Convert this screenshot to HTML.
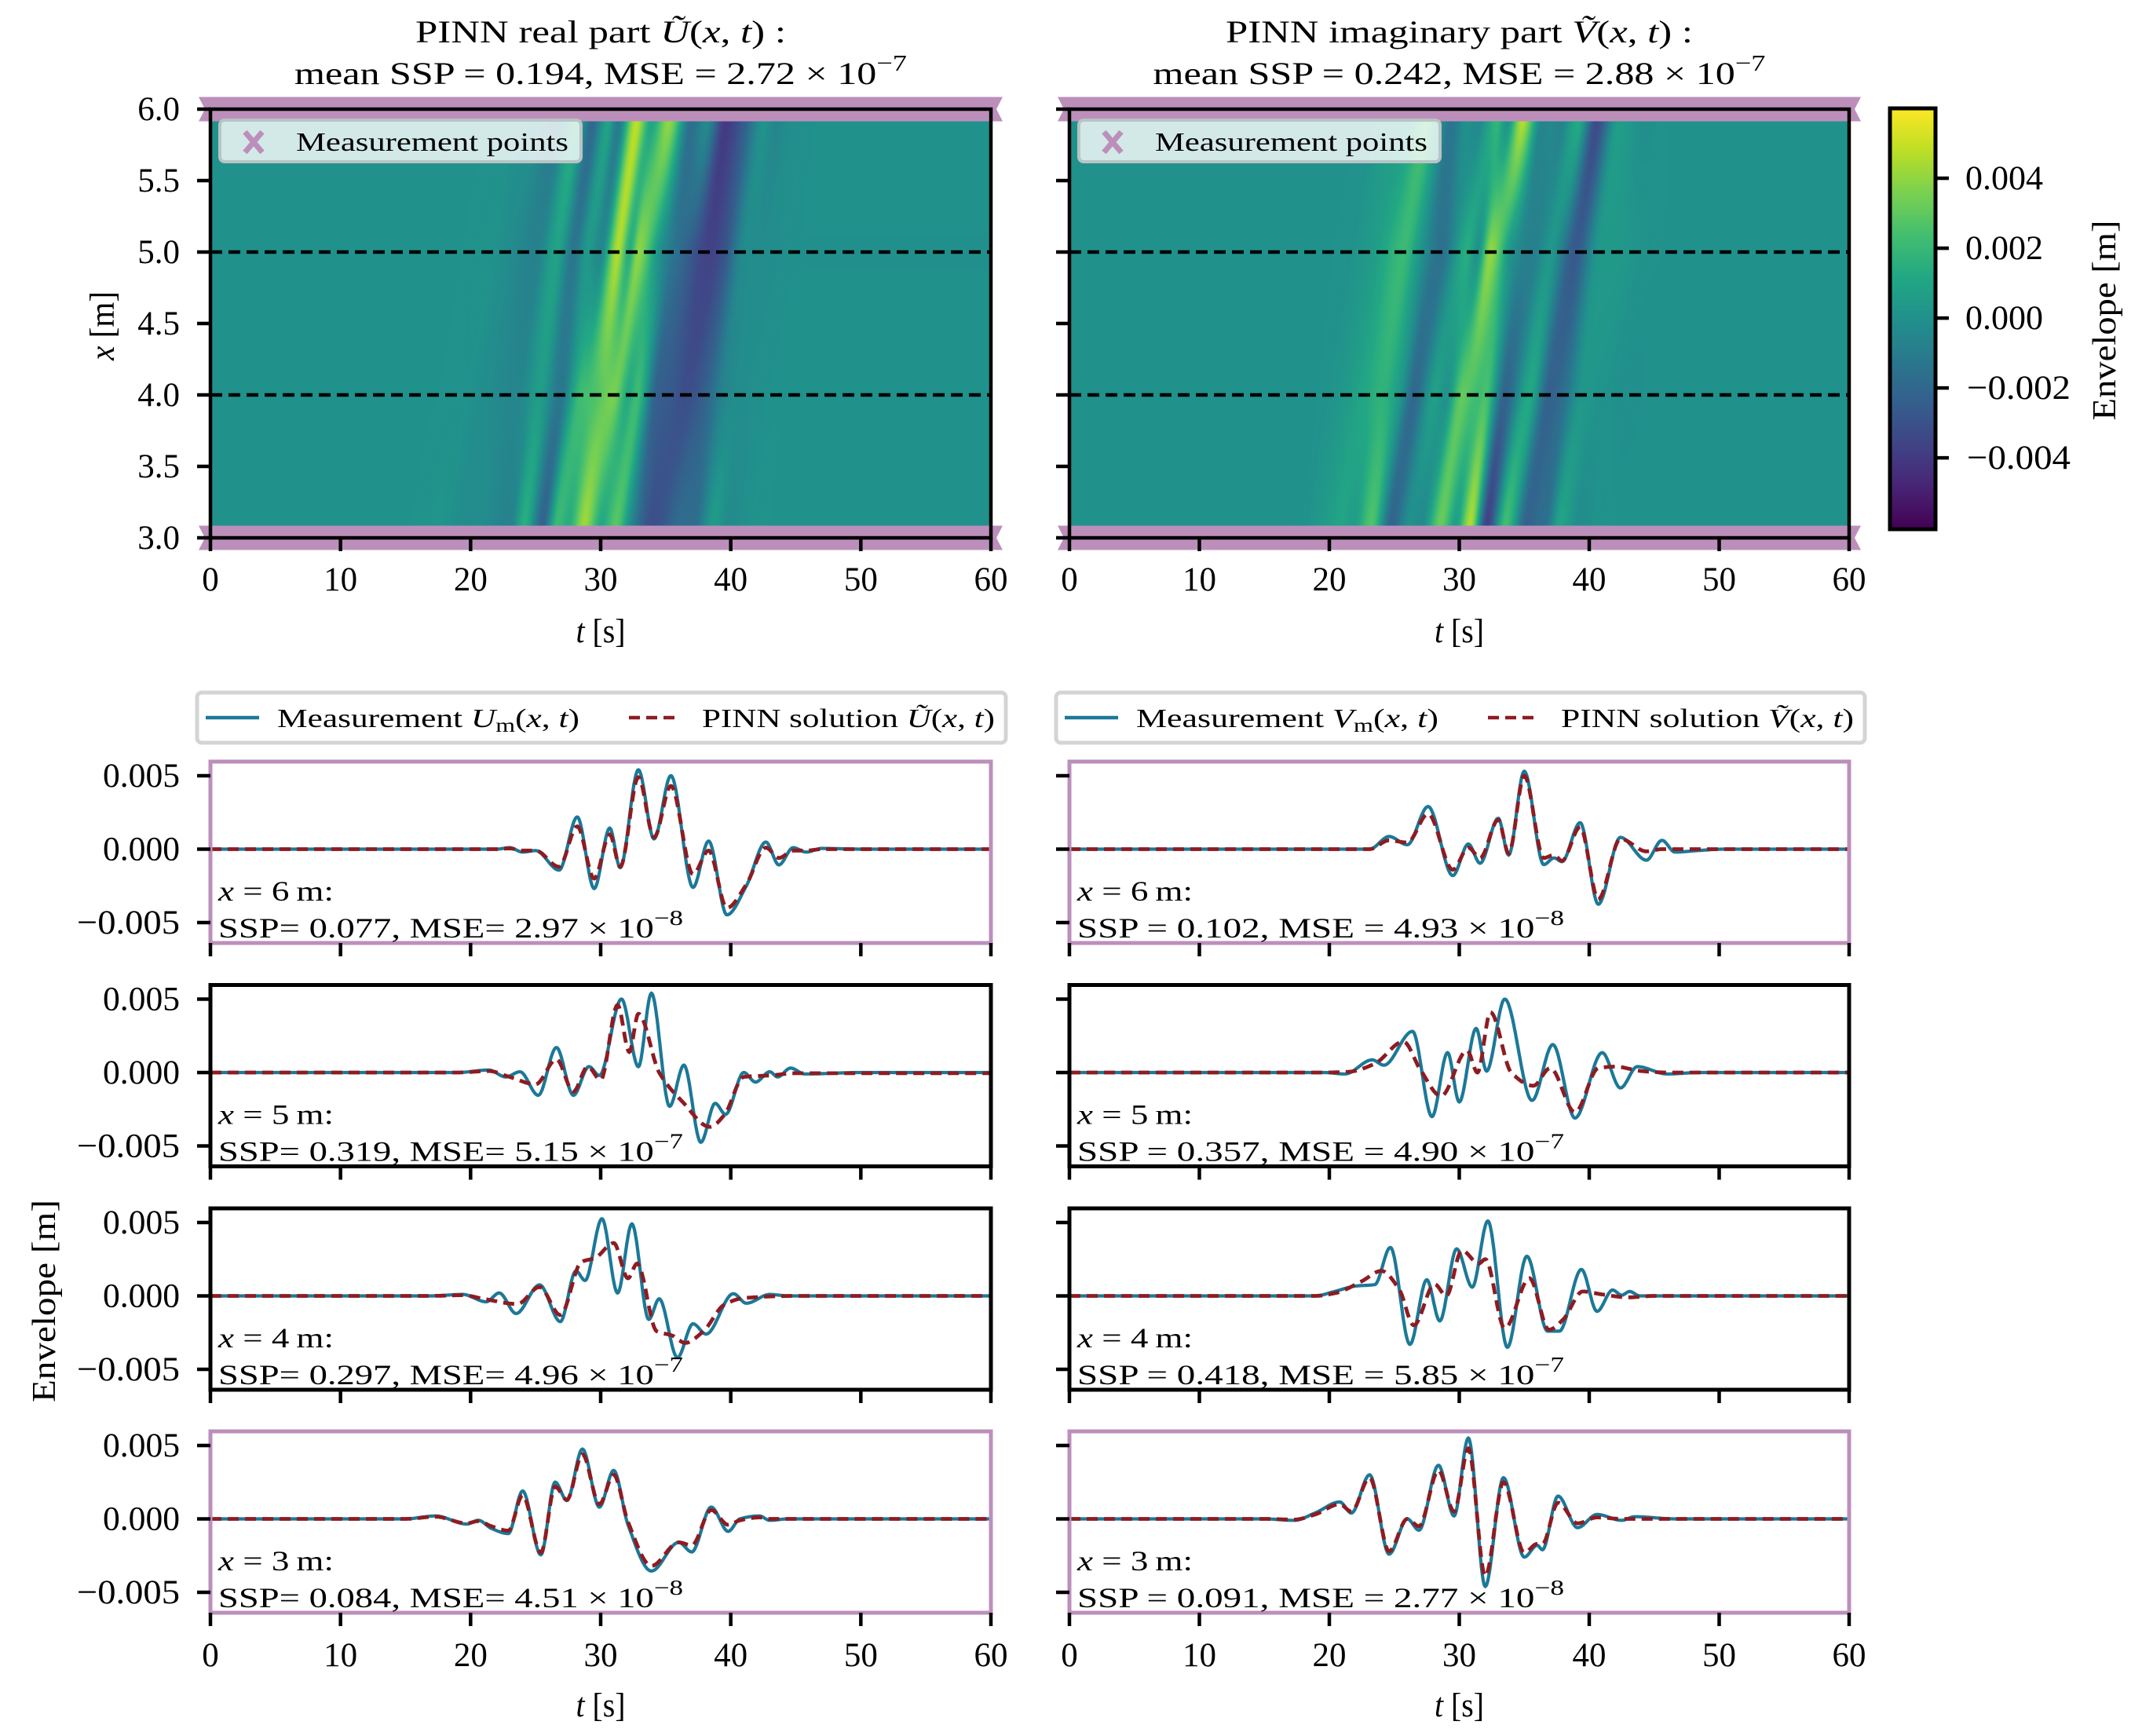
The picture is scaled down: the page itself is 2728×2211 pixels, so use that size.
<!DOCTYPE html>
<html><head><meta charset="utf-8"><style>
html,body{margin:0;padding:0;background:#fff;}
#wrap{position:relative;width:2728px;height:2211px;overflow:hidden;}
canvas{position:absolute;}
svg{position:absolute;left:0;top:0;}
text{font-family:"Liberation Serif",serif;fill:#000;}
</style></head><body>
<div id="wrap">
<canvas id="hmL"></canvas>
<canvas id="hmR"></canvas>
<canvas id="cbar"></canvas>
<svg id="svg" width="2728" height="2211" xmlns="http://www.w3.org/2000/svg"></svg>
</div>
<script>
// ---------- data (values in 1e-3 m, times in s) ----------
const u6MeasT = [0,20,22,23,24,25,26.8,28.2,29.5,30.7,31.5,32.9,34.1,35.4,37.1,38.3,39.7,41.2,42.7,43.7,44.8,45.8,47,50,60];
const u6Meas  = [0,0,0,0.1,-0.2,-0.1,-1.43,2.19,-2.68,1.43,-1.26,5.4,0.7,5.0,-2.6,0.55,-4.47,-2.5,0.48,-1.07,0.1,-0.2,0.05,0,0];
const u6PinnT = [0,20,22,23,24,25,26.8,28.2,29.5,30.7,31.5,32.9,34.1,35.4,37.1,38.3,39.7,41.2,42.7,43.7,44.8,45.8,47,50,60];
const u6Pinn  = [0,0,0,0.05,-0.1,-0.1,-1.2,1.55,-2.0,1.0,-1.2,4.9,0.8,4.3,-1.7,-0.1,-4.0,-2.4,0.1,-0.6,-0.1,-0.1,0,0,0];

const u5MeasT = [0,19,21.4,22.7,23.8,25.2,26.6,27.9,29.1,29.9,31.6,32.9,33.9,35.3,36.4,37.7,38.8,39.6,41.0,41.9,43.0,43.6,44.6,45.7,50,60];
const u5Meas  = [0,0,0.17,-0.3,0.05,-1.55,1.7,-1.55,0.4,-0.2,5.0,0.4,5.4,-2.3,0.5,-4.75,-2.1,-2.85,0,-0.65,0.05,-0.3,0.3,-0.1,0,0];
const u5PinnT = [0,19,21.4,23,25.0,26.6,27.9,29.0,30.0,31.3,32.2,32.9,34.5,36.3,38.4,39.5,41,43,45,60];
const u5Pinn  = [0,0,0.1,-0.3,-0.8,0.9,-1.3,0.4,-0.5,4.6,1.4,4.0,0,-2.0,-3.7,-2.9,-0.3,-0.2,-0.05,-0.05];

const u4MeasT = [0,17,19.4,21.2,22.2,23.5,25.3,26.9,28.1,28.8,30.1,31.3,32.4,33.7,34.5,35.9,37.1,38.1,40.2,41.2,43,44.4,60];
const u4Meas  = [0,0,0.1,-0.4,0.2,-1.2,0.75,-1.75,1.7,1.05,5.25,0.2,4.9,-1.6,-0.2,-4.2,-1.9,-2.6,0.15,-0.5,0.1,0,0];
const u4PinnT = [0,17,19.4,21,23.6,25.3,26.9,28.5,29.6,31.0,32.1,32.8,34.3,35.5,36.5,37.9,39.5,41,45,60];
const u4Pinn  = [0,0,0.05,-0.2,-0.55,0.6,-1.3,2.3,2.6,3.6,1.2,2.2,-2.4,-2.7,-3.2,-2.4,-0.6,-0.15,0,0];

const u3MeasT = [0,15,17.3,19.7,20.6,21.6,22.9,24.0,25.4,26.5,27.4,28.6,29.9,31.0,32.1,33.9,36.0,37.0,38.5,39.8,40.7,42.2,43,44.4,60];
const u3Meas  = [0,0,0.2,-0.35,-0.1,-0.65,-1.0,1.9,-2.45,2.5,1.25,4.75,0.8,3.3,-0.4,-3.55,-1.6,-2.25,0.8,-0.85,0,0.2,-0.1,0,0];
const u3PinnT = [0,15,17.3,19.7,20.6,21.6,22.9,24.0,25.4,26.5,27.4,28.6,29.9,31.0,32.1,33.9,36.0,37.0,38.5,39.8,40.7,42.2,43,44.4,60];
const u3Pinn  = [0,0,0.15,-0.3,-0.15,-0.5,-0.8,1.6,-2.3,2.2,1.3,4.4,1.0,3.0,-0.2,-3.2,-1.6,-1.8,0.6,-0.4,-0.1,0.1,0,0,0];

const v6MeasT = [0,20,23.1,24.6,26.0,27.6,29.5,30.7,31.6,33.0,33.8,35.0,36.5,37.3,37.9,39.3,40.7,42.4,44.4,45.6,46.6,48.3,50.4,60];
const v6Meas  = [0,0,0,0.86,0.3,2.9,-1.8,0.35,-0.96,2.1,-0.4,5.3,-1.05,-0.6,-0.85,1.8,-3.75,0.8,-0.75,0.6,-0.2,-0.1,0,0];
const v6PinnT = [0,20,23.1,24.6,26.0,27.6,29.5,30.7,31.6,33.0,33.8,35.0,36.5,37.3,37.9,39.3,40.7,42.4,44.4,45.6,46.6,48.3,50.4,60];
const v6Pinn  = [0,0,0,0.6,0.45,2.4,-1.4,0.1,-0.6,2.0,-0.3,5.0,-0.6,-0.4,-0.8,1.5,-3.4,0.7,-0.15,0,0,0,0,0];

const v5MeasT = [0,17,19.6,21.2,23.3,24.2,26.4,27.9,29.1,30.0,31.3,32.1,33.5,35.6,37.2,38.9,41.0,42.4,43.7,46.0,48.5,60];
const v5Meas  = [0,0,0,-0.1,0.86,0.5,2.8,-3.0,1.35,-2.0,3.0,0.1,5.0,-1.9,1.9,-3.1,1.35,-1.05,0.4,-0.1,0,0];
const v5PinnT = [0,17,19.6,21.5,23.5,25.7,27.0,28.6,30.6,31.4,32.4,34.0,35.7,37.0,38.9,40.7,42.0,44,46,60];
const v5Pinn  = [0,0,0,0.05,0.6,2.1,0.2,-1.6,1.5,0.0,4.1,0.0,-0.9,0.3,-2.7,0.3,0.4,0.1,0,0];

const v4MeasT = [0,17,18.9,20.4,22,23.5,24.7,26.2,27.5,28.5,29.8,31.0,32.2,33.7,35.2,36.8,37.7,39.4,40.6,41.8,42.5,43.1,43.9,60];
const v4Meas  = [0,0,0,0.3,0.67,0.77,3.3,-3.3,1.1,-1.7,3.2,0.6,5.1,-3.5,2.7,-2.4,-2.4,1.8,-1.05,0.4,0.05,0.3,0,0];
const v4PinnT = [0,17,18.9,20.5,22.5,24.0,25.4,26.5,28.1,29.0,30.2,31.5,32.0,33.5,35.4,36.9,38.0,39.5,41,43,45,60];
const v4Pinn  = [0,0,0,0.2,1.0,1.7,0.4,-2.0,0.8,0,3.1,2.2,2.5,-2.2,1.2,-2.3,-1.6,0.3,0.1,-0.1,0,0];

const v3MeasT = [0,15,17.3,18.9,20.8,21.7,23.1,24.6,26,26.9,28.4,29.6,30.7,32.0,33.4,35.0,36.0,36.4,37.6,39.1,40.6,42.5,43.5,46.6,60];
const v3Meas  = [0,0,-0.1,0.4,1.15,0.4,3.0,-2.4,0,-0.77,3.65,0.2,5.5,-4.6,2.8,-2.6,-1.8,-2.1,1.55,-0.6,0.3,-0.1,0.15,0,0];
const v3PinnT = [0,15,17.3,18.9,20.8,21.7,23.1,24.6,26,26.9,28.4,29.6,30.7,32.0,33.4,35.0,36.0,36.4,37.6,39.1,40.6,42.5,43.5,46.6,60];
const v3Pinn  = [0,0,-0.05,0.3,1.0,0.5,2.8,-2.2,0,-0.5,3.3,0.5,4.8,-3.9,2.5,-2.3,-1.7,-1.7,1.1,-0.3,0.1,0,0,0,0];

const xTicks = [0,10,20,30,40,50,60];
const xTickLabels = ["0","10","20","30","40","50","60"];
const hmYTicks = [3.0,3.5,4.0,4.5,5.0,5.5,6.0];
const hmYTickLabels = ["3.0","3.5","4.0","4.5","5.0","5.5","6.0"];
const envTicks = [5,0,-5];
const envTickLabels = ["0.005","0.000","\u22120.005"];
const cbTicks = [4,2,0,-2,-4];
const cbTickLabels = ["0.004","0.002","0.000","\u22120.002","\u22120.004"];
const sensorX = [6,5,4,3];
const ssp = [["0.077","2.97","8"],["0.319","5.15","7"],["0.297","4.96","7"],["0.084","4.51","8"]];
const sspV = [["0.102","4.93","8"],["0.357","4.90","7"],["0.418","5.85","7"],["0.091","2.77","8"]];

// ---------- layout ----------
const colL = [268, 1362], colR = [1262, 2355];
const hmTop = 139, hmBot = 685;
const rowTop = [970, 1254.5, 1539, 1823], rowH = 231;
const yMaxE = 5.96, yMinE = -6.39;
const vmin = -6.04, vmax = 6.0;
const cbX = 2407, cbW = 58, cbTop = 138, cbBot = 674;

const NS = "http://www.w3.org/2000/svg";
const svg = document.getElementById('svg');
function el(tag, attrs, parent) {
  const e = document.createElementNS(NS, tag);
  for (const k in attrs) e.setAttribute(k, attrs[k]);
  (parent || svg).appendChild(e);
  return e;
}
function fit(e, len) { e.setAttribute('textLength', len); e.setAttribute('lengthAdjust', 'spacingAndGlyphs'); return e; }
function pchip(ts, vs) {
  const n = ts.length, h = [], d = [], m = new Array(n).fill(0);
  for (let i = 0; i < n - 1; i++) { h[i] = ts[i+1]-ts[i]; d[i] = (vs[i+1]-vs[i])/h[i]; }
  for (let i = 1; i < n - 1; i++) {
    if (d[i-1]*d[i] > 0) { const w1 = 2*h[i]+h[i-1], w2 = h[i]+2*h[i-1]; m[i] = (w1+w2)/(w1/d[i-1]+w2/d[i]); }
  }
  return function(t) {
    if (t <= ts[0]) return vs[0];
    if (t >= ts[n-1]) return vs[n-1];
    let i = 0; while (i < n-2 && t > ts[i+1]) i++;
    const s = (t-ts[i])/h[i], s2=s*s, s3=s2*s;
    return (2*s3-3*s2+1)*vs[i] + (s3-2*s2+s)*h[i]*m[i] + (-2*s3+3*s2)*vs[i+1] + (s3-s2)*h[i]*m[i+1];
  };
}
function xScale(c, t) { return colL[c] + (colR[c]-colL[c]) * t / 60; }
function hmY(x) { return hmBot - (hmBot-hmTop) * (x-3) / 3; }
function eY(r, v) { return rowTop[r] + rowH * (yMaxE - v) / (yMaxE - yMinE); }

const vir = [[68,1,84],[72,36,117],[65,68,135],[53,95,141],[42,120,142],[33,145,140],[34,168,132],[68,191,112],[122,209,81],[189,223,38],[253,231,37]];
function viridis(f) {
  f = Math.max(0, Math.min(1, f)); const p = f*10, i = Math.min(9, Math.floor(p)), a = p-i;
  return [0,1,2].map(k => vir[i][k]*(1-a)+vir[i+1][k]*a);
}

const curvesU = [[u6MeasT,u6Meas,u6PinnT,u6Pinn],[u5MeasT,u5Meas,u5PinnT,u5Pinn],[u4MeasT,u4Meas,u4PinnT,u4Pinn],[u3MeasT,u3Meas,u3PinnT,u3Pinn]];
const curvesV = [[v6MeasT,v6Meas,v6PinnT,v6Pinn],[v5MeasT,v5Meas,v5PinnT,v5Pinn],[v4MeasT,v4Meas,v4PinnT,v4Pinn],[v3MeasT,v3Meas,v3PinnT,v3Pinn]];

// ---------- heatmaps ----------
const shiftPerM = 1.4;
function drawHeat(id, c, curves) {
  const cv = document.getElementById(id);
  const W = Math.round(colR[c]-colL[c]), H = hmBot-hmTop;
  cv.width = W; cv.height = H; cv.style.left = colL[c]+'px'; cv.style.top = hmTop+'px';
  const ctx = cv.getContext('2d'), img = ctx.createImageData(W, H);
  const prof = [3,2,1,0].map(r => pchip(curves[r][2], curves[r][3]));
  for (let py = 0; py < H; py++) {
    const x = 6 - 3*(py+0.5)/H;
    let i = Math.min(2, Math.floor(x-3)), a = (x-3)-i;
    for (let px = 0; px < W; px++) {
      const t = 60*(px+0.5)/W;
      const v = (1-a)*prof[i](t - shiftPerM*a) + a*prof[i+1](t + shiftPerM*(1-a));
      const col = viridis((v - vmin)/(vmax - vmin));
      const o = (py*W+px)*4; img.data[o]=col[0]; img.data[o+1]=col[1]; img.data[o+2]=col[2]; img.data[o+3]=255;
    }
  }
  ctx.putImageData(img, 0, 0);
}
drawHeat('hmL', 0, curvesU);
drawHeat('hmR', 1, curvesV);
(function(){
  const cv = document.getElementById('cbar'); cv.width = cbW; cv.height = cbBot-cbTop;
  cv.style.left = cbX+'px'; cv.style.top = cbTop+'px';
  const ctx = cv.getContext('2d');
  for (let y = 0; y < cv.height; y++) { const c = viridis(1 - y/cv.height); ctx.fillStyle = `rgb(${c[0]|0},${c[1]|0},${c[2]|0})`; ctx.fillRect(0,y,cbW,1); }
})();

// ---------- heatmap decorations ----------
const purple = "#bc8fbb";
const titles = [["PINN real part ", "U", "0.194", "2.72", 472], ["PINN imaginary part ", "V", "0.242", "2.88", 595]];
for (let c = 0; c < 2; c++) {
  const cx = (colL[c]+colR[c])/2;
  const g = el('g', { });
  const t1 = el('text', {x: cx, y: 54, 'font-size': 40, 'text-anchor': 'middle',  }, g);
  t1.innerHTML = titles[c][0] + '<tspan font-style="italic">' + titles[c][1] + '\u0303</tspan>(<tspan font-style="italic">x</tspan>, <tspan font-style="italic">t</tspan>) :';
  fit(t1, titles[c][4]);
  const t2 = el('text', {x: cx, y: 107, 'font-size': 40, 'text-anchor': 'middle',  }, g);
  t2.innerHTML = 'mean SSP = ' + titles[c][2] + ', MSE = ' + titles[c][3] + ' \u00d7 10<tspan dy="-17" font-size="29">\u22127</tspan>';
  fit(t2, 780);
  [6, 3].forEach(xv => {
    const yc = hmY(xv);
    const x0 = colL[c]-15, x1 = colR[c]+15;
    el('polygon', {points: `${x0},${yc-15.5} ${x1},${yc-15.5} ${x1-8},${yc} ${x1},${yc+15.5} ${x0},${yc+15.5} ${x0+8},${yc}`, fill: purple,  }, g);
  });
  [5, 4].forEach(xv => el('line', {x1: colL[c], x2: colR[c], y1: hmY(xv), y2: hmY(xv), stroke: '#000', 'stroke-width': 4.5, 'stroke-dasharray': '15,8',  }, g));
  el('rect', {x: colL[c], y: hmTop, width: colR[c]-colL[c], height: hmBot-hmTop, fill: 'none', stroke: '#000', 'stroke-width': 4.5,  }, g);
  hmYTicks.forEach((v, i) => {
    el('line', {x1: colL[c]-17, x2: colL[c], y1: hmY(v), y2: hmY(v), stroke: '#000', 'stroke-width': 4.5,  }, g);
    if (c === 0) { const tx = el('text', {x: 229, y: hmY(v)+14, 'font-size': 43, 'text-anchor': 'end',  }, g); tx.textContent = hmYTickLabels[i]; }
  });
  xTicks.forEach((v, i) => {
    el('line', {x1: xScale(c, v), x2: xScale(c, v), y1: hmBot, y2: hmBot+17, stroke: '#000', 'stroke-width': 4.5,  }, g);
    const tx = el('text', {x: xScale(c, v), y: 752, 'font-size': 43, 'text-anchor': 'middle',  }, g); tx.textContent = xTickLabels[i];
  });
  const xl = el('text', {x: cx, y: 818, 'font-size': 43, 'text-anchor': 'middle',  }, g);
  xl.innerHTML = '<tspan font-style="italic">t</tspan> [s]';
  fit(xl, 63);
  const lg = el('g', { }, g);
  const lx = colL[c]+12;
  el('rect', {x: lx, y: 153, width: 460, height: 53, rx: 6, fill: 'rgba(255,255,255,0.8)', stroke: '#b8c4c4', 'stroke-width': 4}, lg);
  el('path', {d: `M${lx+32},${168} L${lx+54},${194} M${lx+54},${168} L${lx+32},${194}`, stroke: purple, 'stroke-width': 7, fill: 'none',  }, lg);
  const lt = el('text', {x: lx+97, y: 192, 'font-size': 34,  }, lg);
  lt.textContent = 'Measurement points'; fit(lt, 347);
}
const xm = el('text', {x: 0, y: 0, 'font-size': 44, 'text-anchor': 'middle', transform: 'translate(145,415) rotate(-90)',  });
xm.innerHTML = '<tspan font-style="italic">x</tspan> [m]';
fit(xm, 88);
const cbg = el('g', { });
el('rect', {x: cbX, y: cbTop, width: cbW, height: cbBot-cbTop, fill: 'none', stroke: '#000', 'stroke-width': 5}, cbg);
cbTicks.forEach((v, i) => {
  const y = cbBot - (cbBot-cbTop)*(v - vmin)/(vmax - vmin);
  el('line', {x1: cbX+cbW, x2: cbX+cbW+17, y1: y, y2: y, stroke: '#000', 'stroke-width': 4.5,  }, cbg);
  const tx = el('text', {x: v < 0 ? 2505 : 2503, y: y+14, 'font-size': 43,  }, cbg);
  tx.textContent = cbTickLabels[i]; fit(tx, v < 0 ? 132 : 99);
});
const cbl = el('text', {x: 0, y: 0, 'font-size': 42, 'text-anchor': 'middle', transform: 'translate(2694,408) rotate(-90)',  }, cbg);
cbl.textContent = 'Envelope  [m]'; fit(cbl, 255);

// ---------- line panels ----------
const measColor = '#1c7898', pinnColor = '#8d1c22';
for (let c = 0; c < 2; c++) {
  const lg = el('g', { });
  const lx = colL[c]-17;
  el('rect', {x: lx, y: 882, width: 1030, height: 64, rx: 6, fill: '#fff', stroke: '#d4d4d4', 'stroke-width': 5}, lg);
  el('line', {x1: lx+11, x2: lx+79, y1: 914, y2: 914, stroke: measColor, 'stroke-width': 4.5,  }, lg);
  const l1 = el('text', {x: lx+102, y: 926, 'font-size': 34,  }, lg);
  l1.innerHTML = 'Measurement <tspan font-style="italic">' + (c ? 'V' : 'U') + '</tspan><tspan font-size="25" dy="6">m</tspan><tspan dy="-6">(</tspan><tspan font-style="italic">x</tspan>, <tspan font-style="italic">t</tspan>)';
  fit(l1, 385);
  el('line', {x1: lx+550, x2: lx+613, y1: 914, y2: 914, stroke: pinnColor, 'stroke-width': 4.5, 'stroke-dasharray': '14,8',  }, lg);
  const l2 = el('text', {x: lx+643, y: 926, 'font-size': 34,  }, lg);
  l2.innerHTML = 'PINN solution <tspan font-style="italic">' + (c ? 'V' : 'U') + '\u0303</tspan>(<tspan font-style="italic">x</tspan>, <tspan font-style="italic">t</tspan>)';
  fit(l2, 373);

  const curves = c ? curvesV : curvesU, stats = c ? sspV : ssp;
  for (let r = 0; r < 4; r++) {
    const g = el('g', { });
    const clipId = `clip${c}${r}`;
    const cp = el('clipPath', {id: clipId}, g);
    el('rect', {x: colL[c], y: rowTop[r], width: colR[c]-colL[c], height: rowH}, cp);
    const fm = pchip(curves[r][0], curves[r][1]), fp = pchip(curves[r][2], curves[r][3]);
    let dm = '', dp = '';
    for (let k = 0; k <= 1200; k++) {
      const t = k*0.05;
      dm += (k ? 'L' : 'M') + xScale(c, t).toFixed(1) + ',' + eY(r, fm(t)).toFixed(1);
      dp += (k ? 'L' : 'M') + xScale(c, t).toFixed(1) + ',' + eY(r, fp(t)).toFixed(1);
    }
    el('path', {d: dm, fill: 'none', stroke: measColor, 'stroke-width': 4.2, 'clip-path': `url(#${clipId})`,  }, g);
    el('path', {d: dp, fill: 'none', stroke: pinnColor, 'stroke-width': 4.8, 'stroke-dasharray': '14,8', 'clip-path': `url(#${clipId})`,  }, g);
    const framed = (r === 0 || r === 3);
    el('rect', {x: colL[c], y: rowTop[r], width: colR[c]-colL[c], height: rowH, fill: 'none', stroke: framed ? purple : '#000', 'stroke-width': 5,  }, g);
    envTicks.forEach((v, i) => {
      el('line', {x1: colL[c]-17, x2: colL[c], y1: eY(r, v), y2: eY(r, v), stroke: '#000', 'stroke-width': 4.5,  }, g);
      if (c === 0) { const tx = el('text', {x: 229, y: eY(r, v)+14, 'font-size': 43, 'text-anchor': 'end',  }, g); tx.textContent = envTickLabels[i]; fit(tx, v < 0 ? 131 : 98); }
    });
    xTicks.forEach((v, i) => {
      el('line', {x1: xScale(c, v), x2: xScale(c, v), y1: rowTop[r]+rowH, y2: rowTop[r]+rowH+17, stroke: '#000', 'stroke-width': 4.5,  }, g);
      if (r === 3) { const tx = el('text', {x: xScale(c, v), y: 2122, 'font-size': 43, 'text-anchor': 'middle',  }, g); tx.textContent = xTickLabels[i]; }
    });
    const a1 = el('text', {x: colL[c]+10, y: rowTop[r]+177, 'font-size': 36,  }, g);
    a1.innerHTML = '<tspan font-style="italic">x</tspan> = ' + sensorX[r] + '\u2009m:';
    fit(a1, 147);
    const a2 = el('text', {x: colL[c]+10, y: rowTop[r]+224, 'font-size': 36,  }, g);
    a2.innerHTML = (c ? 'SSP = ' : 'SSP= ') + stats[r][0] + (c ? ', MSE = ' : ', MSE= ') + stats[r][1] + ' \u00d7 10<tspan dy="-16" font-size="27">\u2212' + stats[r][2] + '</tspan>';
    fit(a2, c ? 620 : 592);
  }
  const xt = el('text', {x: (colL[c]+colR[c])/2, y: 2186, 'font-size': 43, 'text-anchor': 'middle',  });
  xt.innerHTML = '<tspan font-style="italic">t</tspan> [s]';
  fit(xt, 63);
}
const ey = el('text', {x: 0, y: 0, 'font-size': 42, 'text-anchor': 'middle', transform: 'translate(70,1657) rotate(-90)',  });
ey.textContent = 'Envelope  [m]'; fit(ey, 258);
</script>
</body></html>
